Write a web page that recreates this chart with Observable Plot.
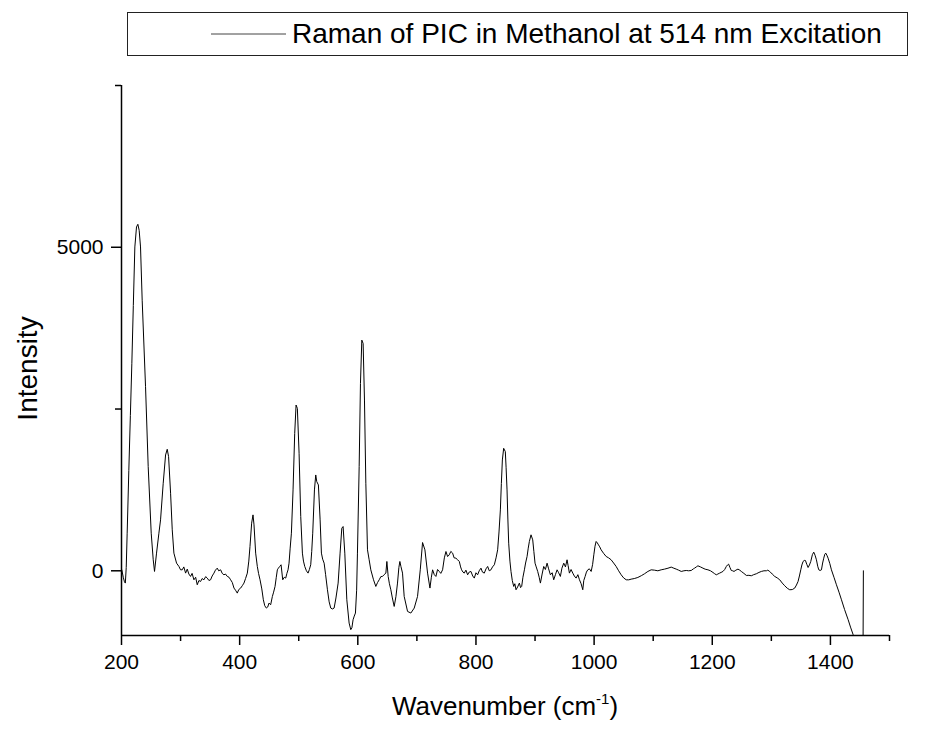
<!DOCTYPE html>
<html>
<head>
<meta charset="utf-8">
<script src="https://cdn.jsdelivr.net/npm/d3@7"></script>
<script src="https://cdn.jsdelivr.net/npm/@observablehq/plot@0.6"></script>
<style>
  html, body { margin: 0; padding: 0; background: #fff; }
  #wrap { position: relative; width: 950px; height: 729px; font-family: "Liberation Sans", Arial, sans-serif; overflow: hidden; }
  #legend { position: absolute; left: 127px; top: 12px; width: 781px; height: 44px; box-sizing: border-box;
            border: 1.5px solid #222; background: #fff; }
  #legend svg { position: absolute; left: 0; top: 0; }
  #legend span { position: absolute; left: 164px; top: 0; line-height: 42px; font-size: 28px; color: #000; white-space: nowrap; }
  #chart { position: absolute; left: 0; top: 60px; }
</style>
</head>
<body>
<div id="wrap">
  <div id="legend"></div>
  <div id="chart"></div>
</div>
<script>
// ---- Data (wavenumber in cm^-1, intensity in counts) ----
const legendLabel = "Raman of PIC in Methanol at 514 nm Excitation";
const yAxisTitle = "Intensity";
const xAxisTitle = ["Wavenumber (cm", "-1", ")"];

const xDomain = [200, 1500];
const yDomain = [-1000, 7500];
const xMajorTicks = [200, 400, 600, 800, 1000, 1200, 1400];
const xMinorTicks = [300, 500, 700, 900, 1100, 1300, 1500];
const yMajorTicks = [0, 5000];
const yMinorTicks = [2500, 7500];

// [wavenumber, intensity]
const ramanSpectrum = [
  [200.5, 15], [203, -100], [205, -170], [206.5, -190], [208, 50], [209.6, 581], [212.4, 1550], [215, 2400],
  [217.5, 3200], [220, 4100], [222.6, 5005], [225.4, 5314], [227.7, 5355], [229.9, 5262], [232.2, 5005], [235, 4182],
  [240.7, 2845], [245.2, 1610], [250.3, 581], [253.7, 170], [255.9, -10], [259.3, 273], [263.3, 581],
  [266.1, 787], [270.6, 1353], [274.6, 1790], [277.4, 1878], [279.7, 1764], [283.1, 1199], [285.9, 633],
  [288.7, 273], [293.2, 118], [297.2, 67], [300, 15],
  [302.8, 15], [305.5, 60], [308.5, -36], [311.3, 26], [314, -50], [316.9, -87], [319.5, -40], [322.6, -139],
  [325.5, -100], [328.2, -216], [331, -150], [333.9, -165], [336.5, -120], [339.5, -139], [342.5, -90],
  [345.2, -113], [348, -150], [350.8, -139], [353.5, -80], [356.5, -36], [359, 10], [362.1, 41], [364.5, 0],
  [367.8, 15], [370.5, -40], [373.4, -62], [376, -50], [379.1, -87], [382, -100], [384.7, -139], [387.5, -180],
  [390.4, -267], [393, -300], [396, -345], [398.5, -290], [401.7, -267], [404.5, -230], [407.3, -190],
  [410, -120], [413, -36], [415.5, 150], [417.5, 376], [420.3, 736], [422.6, 864], [424.3, 710], [427.1, 273],
  [429.9, 67], [432, -40], [434.5, -139], [437.5, -280], [440.1, -448], [442.5, -540], [445.2, -576],
  [447.5, -560], [449.7, -499], [452.5, -525], [455.4, -396], [457.5, -330], [459.9, -242], [462, -100],
  [463.8, 15], [465.5, 40], [467.8, 67], [470.1, 93], [472.9, -139], [475.5, -100], [478, -113], [480, -40],
  [481.9, 15], [483.6, 118], [485.5, 350], [487.6, 581], [490.4, 1250], [493.2, 2124], [495.5, 2562],
  [497.7, 2510], [500.6, 1816], [503.4, 838], [506.2, 273], [508, 150], [510.2, 67], [513, 0], [515.8, -36],
  [518, 20], [520.3, 93], [522, 300], [523.7, 581], [526.6, 1250], [528.8, 1481], [530.5, 1379], [533.3, 1327],
  [536.2, 787], [538.4, 273], [540.5, 180], [543, 118], [545.5, -60], [548.6, -293], [551.5, -480],
  [554.2, -576], [557, -590], [559.9, -576], [563, -420], [566.7, -190], [570, 273], [572.9, 658], [575.1, 684],
  [578, 273], [581.4, -448], [585.3, -808], [588.1, -910], [590, -880], [592, -756], [594, -700], [596, -653],
  [598, -300], [599.4, 273], [602.3, 1610], [604.5, 2896], [606.8, 3565], [609, 3513], [611.3, 2639],
  [613.6, 1353], [616.4, 324], [619.2, 170], [622, 15], [626.6, -139], [630.5, -242], [633.5, -180],
  [636.2, -139], [639, -90], [641.8, -87], [644.5, -60], [647.5, -36], [649.2, 144], [651.4, -87],
  [653.5, -200], [655.9, -293], [658.5, -420], [661.6, -551], [664.5, -400], [667.2, -190], [669.5, 50],
  [671.2, 144], [673, 67], [675.7, -36], [678.5, -396], [684.2, -628], [689.8, -653], [695.5, -576],
  [701.1, -396], [705.7, 15], [709.6, 437], [713.6, 324], [718.1, -36], [722.1, -267], [724.5, -100],
  [726.6, 15], [729.5, -60], [732.2, -87], [735, 20], [737.9, -10], [740.5, -40], [743.5, 15], [746.5, 200],
  [749.2, 298], [752, 220], [754.8, 247], [757.5, 300], [760.5, 273], [763, 200], [766.1, 195], [769, 170],
  [771.8, 144], [774, 60], [775.7, 15], [778, -20], [780.2, -36], [783, 10], [785.9, -62], [788.5, -20],
  [791.5, -10], [794.5, -80], [797.2, -113], [800, -30], [802.8, -62], [805.5, 0], [808.5, 41], [811, -20],
  [814.1, -36], [817, 30], [819.8, 67], [822.5, 0], [825.4, 15], [828, 60], [831.1, 93], [834, 200],
  [836.7, 324], [839, 600], [841.3, 941], [843, 1350], [844.7, 1713], [846.9, 1893], [849.7, 1842],
  [851, 1600], [852.6, 1250], [854, 800], [855.4, 427], [857.5, 150], [859.3, -10], [861.5, -150],
  [863.9, -242], [865.8, -200], [867.8, -293], [870.5, -250], [873.5, -190], [875.5, -260], [877.4, -242],
  [879.5, -100], [882, 15], [884, 120], [886.5, 221], [888.5, 350], [890.4, 453], [893.2, 556], [896.1, 478],
  [898, 300], [900, 118], [902, 60], [904.5, -10], [907, -100], [909.1, -190], [912, -50], [914.7, 67],
  [917.5, 20], [920.4, 118], [923, 30], [926, -62], [929, -30], [931.6, -139], [934.5, -60], [937.3, 15],
  [940, -30], [942.9, -87], [945.5, 40], [948.6, 118], [951.5, 60], [954.2, 170], [956, 80], [958.2, -36],
  [961, 20], [963.9, -36], [966.5, -80], [969.5, -113], [972.5, -60], [975.2, -139], [978, -200],
  [980.8, -293], [982.5, -150], [984.8, -87], [987, -20], [989.3, 15], [992, 30], [995, -10], [997.5, 100],
  [999.5, 247], [1001.5, 380], [1003.4, 453], [1005.5, 430], [1007.4, 401], [1009.5, 370], [1011.9, 324],
  [1016, 270], [1020.4, 221], [1024.5, 200], [1028.8, 170], [1033, 120], [1037.3, 67], [1041.5, 0],
  [1045.8, -62], [1050, -110], [1054.3, -139], [1058.5, -140], [1062.7, -129], [1068, -120], [1074, -103],
  [1080, -75], [1085.3, -46], [1091, -10], [1096.6, 15], [1102, 10], [1107.9, 0], [1113.5, 15], [1119.2, 26],
  [1125, 40], [1130.5, 57], [1135, 40], [1139, 26], [1143, 10], [1147.5, -10], [1152, 0], [1156, 5],
  [1160, 0], [1164.4, 5], [1168, 30], [1170.1, 41], [1173, 60], [1175.7, 77], [1180, 60], [1184.2, 41],
  [1188, 25], [1192.7, 15], [1197, 0], [1201.2, -26], [1204, -45], [1206.8, -62], [1209.5, -50],
  [1212.5, -36], [1215, -25], [1218.1, -10], [1221, 20], [1223.8, 67], [1225.8, 90], [1227.7, 103],
  [1230, 50], [1232.2, 5], [1234.5, 0], [1236.8, -10], [1240, 10], [1243.5, 26], [1246.5, 10], [1249.2, -10],
  [1253.5, -40], [1257.7, -72], [1262, -70], [1266.1, -77], [1270, -60], [1274.6, -46], [1279, -25],
  [1283.1, -10], [1287.5, 0], [1291.6, 0], [1294, 10], [1297.2, -10], [1301.5, -50], [1305.7, -87],
  [1310, -110], [1314.2, -139], [1318.5, -190], [1322.6, -231], [1327, -270], [1331.1, -293], [1335.5, -290],
  [1339.6, -267], [1342.5, -220], [1345.2, -165], [1347.5, -80], [1349.8, 15], [1351.7, 90], [1353.7, 144],
  [1355.7, 160], [1357.7, 159], [1360, 100], [1362.2, 51], [1364.5, 90], [1366.7, 144], [1369.5, 250],
  [1371.8, 288], [1374, 240], [1376.3, 170], [1378.5, 70], [1380.3, 15], [1382.5, 5], [1384.8, 15],
  [1386.8, 120], [1388.7, 195], [1390.5, 255], [1392.1, 273], [1394, 240], [1396.1, 195], [1399, 110],
  [1401.7, 15], [1406, -100], [1410.2, -216], [1414.5, -330], [1418.7, -448], [1424, -600], [1430, -756],
  [1434, -870], [1438.5, -988], [1446, -1250], [1452, -1500], [1455, -1650], [1455.8, 0]
];

const data = ramanSpectrum.map(([w, v]) => ({wavenumber: w, intensity: v}));

// ---- Legend (HTML above the chart) ----
const legend = document.getElementById("legend");
legend.innerHTML =
  `<svg width="781" height="44"><line x1="83" x2="158" y1="21" y2="21" stroke="#444" stroke-width="1"/></svg>` +
  `<span></span>`;
legend.querySelector("span").textContent = legendLabel;

// ---- Chart ----
const axisStroke = 1.5;
const chart = Plot.plot({
  width: 950,
  height: 669,
  marginTop: 25,
  marginBottom: 94,
  marginLeft: 121,
  marginRight: 61,
  style: {fontFamily: "'Liberation Sans', Arial, sans-serif", color: "#000", background: "#fff", overflow: "visible"},
  x: {domain: xDomain, label: null},
  y: {domain: yDomain, label: null},
  marks: [
    Plot.line(data, {x: "wavenumber", y: "intensity", stroke: "#000", strokeWidth: 1, clip: true}),
    Plot.ruleY([yDomain[0]], {stroke: "#000", strokeWidth: axisStroke}),
    Plot.ruleX([xDomain[0]], {stroke: "#000", strokeWidth: axisStroke}),
    Plot.axisX(xMajorTicks, {tickSize: 10, tickPadding: 9, fontSize: 21, strokeWidth: axisStroke, label: null, tickFormat: d => String(d)}),
    Plot.axisX(xMinorTicks, {tickSize: 6, strokeWidth: axisStroke, label: null, tickFormat: () => ""}),
    Plot.axisY(yMajorTicks, {tickSize: 10, tickPadding: 8, fontSize: 21, strokeWidth: axisStroke, label: null, tickFormat: d => String(d)}),
    Plot.axisY(yMinorTicks, {tickSize: 6, strokeWidth: axisStroke, label: null, tickFormat: () => ""}),
    Plot.text([yAxisTitle], {frameAnchor: "left", textAnchor: "middle", dx: -93, dy: 8, rotate: -90, fontSize: 28, fill: "#000"})
  ]
});
document.getElementById("chart").appendChild(chart);

// x-axis title with superscript, positioned from the x scale and frame
const xs = chart.scale("x");
const xMid = (xs.apply(xDomain[0]) + xs.apply(xDomain[1])) / 2;
const frameBottom = 669 - 94;
const t = d3.select(chart).append("text")
  .attr("x", xMid)
  .attr("y", frameBottom + 80)
  .attr("text-anchor", "middle")
  .attr("font-size", 26)
  .attr("fill", "#000");
t.append("tspan").text(xAxisTitle[0]);
t.append("tspan").attr("font-size", 15).attr("dy", -11).text(xAxisTitle[1]);
t.append("tspan").attr("dy", 11).text(xAxisTitle[2]);
</script>
</body>
</html>
